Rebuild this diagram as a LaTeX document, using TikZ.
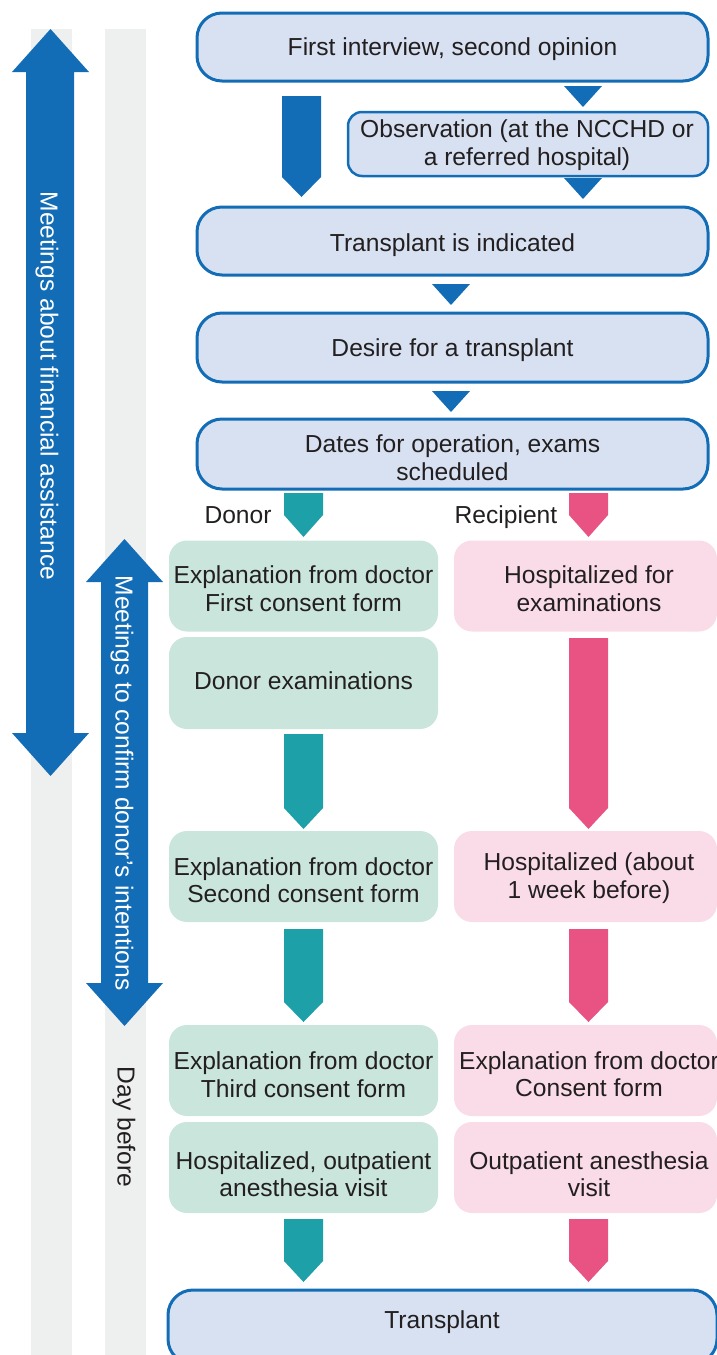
\documentclass[tikz,border=0pt]{standalone}
\usepackage{fontspec}
\setmainfont{Liberation Sans}
\definecolor{mblue}{HTML}{136DB6}
\definecolor{bfill}{HTML}{D7E1F1}
\definecolor{teal1}{HTML}{1EA0A9}
\definecolor{tfill}{HTML}{C9E5DC}
\definecolor{pink1}{HTML}{E95384}
\definecolor{pfill}{HTML}{FADCE8}
\definecolor{strip}{HTML}{EEF0F0}
\definecolor{txt}{HTML}{231F20}
\newcommand\pentarrow[6]{\fill[#6] (#1,#3) -- (#2,#3) -- (#2,#4) -- ({(#1+#2)/2},#5) -- (#1,#4) -- cycle;}
\newcommand\tri[5]{\fill[#5] (#1,#3) -- (#2,#3) -- ({(#1+#2)/2},#4) -- cycle;}
\tikzset{
  base/.style={inner sep=0pt, align=center, text=txt, font=\fontsize{24.6}{27.5}\selectfont},
  bluebox/.style={base, draw=mblue, fill=bfill, line width=3pt, rounded corners=25pt, minimum width=511pt},
  obsbox/.style={base, draw=mblue, fill=bfill, line width=2.5pt, rounded corners=14pt},
  donorbox/.style={base, fill=tfill, rounded corners=18pt, minimum width=269pt, minimum height=91pt},
  recipbox/.style={base, fill=pfill, rounded corners=18pt, minimum width=263pt, minimum height=91pt},
  vlabel/.style={base, rotate=-90},
}
\begin{document}
\begin{tikzpicture}[x=1pt,y=-1pt]
\useasboundingbox (0,0) rectangle (717,1355);
% grey strips
\fill[strip] (31,29) rectangle (72,1356);
\fill[strip] (105,29) rectangle (146,1356);
% double arrows
\fill[mblue] (50.5,29) -- (89,72) -- (74,72) -- (74,733) -- (89,733) -- (50.5,776) -- (12,733) -- (26,733) -- (26,72) -- (12,72) -- cycle;
\node[vlabel, text=white] (fin) at (47,386) {Meetings about financial assistance};
\fill[mblue] (124.5,539) -- (163,582) -- (148,582) -- (148,983) -- (163,983) -- (124.5,1026) -- (86,983) -- (101,983) -- (101,582) -- (86,582) -- cycle;
\node[vlabel, text=white] (conf) at (122,783) {Meetings to confirm donor’s intentions};
\node[vlabel] (day) at (124,1127) {Day before};
% top boxes
\node[bluebox, minimum height=68pt] (b1) at (452.5,47) {};
\node[base] (b1t) at (452.5,49) {First interview, second opinion};
\node[obsbox, minimum width=360pt, minimum height=64pt] (obs) at (528,144) {};
\node[base] (obst) at (527,145) {Observation (at the NCCHD or\\a referred hospital)};
\node[bluebox, minimum height=68pt] (b2) at (452.5,241) {};
\node[base] (b2t) at (452.5,245.5) {Transplant is indicated};
\node[bluebox, minimum height=69pt] (b3) at (452.5,347.5) {};
\node[base] (b3t) at (452.5,350.5) {Desire for a transplant};
\node[bluebox, minimum height=70pt] (b4) at (452.5,454) {};
\node[base] (b4t) at (452.5,457.5) {Dates for operation, exams\\scheduled};
% blue connectors
\pentarrow{282}{321}{96}{177}{197}{mblue}
\tri{564}{602}{86}{107}{mblue}
\tri{564}{602}{178}{199}{mblue}
\tri{432}{470}{284}{305}{mblue}
\tri{432}{470}{391}{412}{mblue}
% labels
\node[base] (donor) at (238,515) {Donor};
\node[base] (recip) at (506,517) {Recipient};
% donor column
\node[donorbox] (d1) at (303.5,586) {};
\node[base] (d1t) at (303.5,588.5) {Explanation from doctor\\First consent form};
\node[donorbox, minimum height=92pt] (d2) at (303.5,683) {};
\node[base] (d2t) at (303.5,681) {Donor examinations};
\node[donorbox] (d3) at (303.5,876.5) {};
\node[base] (d3t) at (303.5,880) {Explanation from doctor\\Second consent form};
\node[donorbox] (d4) at (303.5,1070.5) {};
\node[base] (d4t) at (303.5,1074.5) {Explanation from doctor\\Third consent form};
\node[donorbox] (d5) at (303.5,1167.5) {};
\node[base] (d5t) at (303.5,1174) {Hospitalized, outpatient\\anesthesia visit};
% recipient column
\node[recipbox] (r1) at (585.5,586) {};
\node[base] (r1t) at (589,588.5) {Hospitalized for\\examinations};
\node[recipbox] (r2) at (585.5,876.5) {};
\node[base] (r2t) at (589,878) {Hospitalized (about\\1 week before)};
\node[recipbox] (r3) at (585.5,1070.5) {};
\node[base] (r3t) at (589,1074) {Explanation from doctor\\Consent form};
\node[recipbox] (r4) at (585.5,1167.5) {};
\node[base] (r4t) at (589,1174) {Outpatient anesthesia\\visit};
% teal arrows
\pentarrow{284}{323}{493}{515}{537}{teal1}
\pentarrow{284}{323}{734}{808}{829}{teal1}
\pentarrow{284}{323}{929}{1002}{1022}{teal1}
\pentarrow{284}{323}{1219}{1261}{1282}{teal1}
% pink arrows
\pentarrow{569}{608}{493}{515}{537}{pink1}
\pentarrow{569}{608}{638}{808}{829}{pink1}
\pentarrow{569}{608}{929}{1002}{1022}{pink1}
\pentarrow{569}{608}{1219}{1261}{1282}{pink1}
% final box
\node[bluebox, minimum width=549pt, minimum height=74pt] (tp) at (442.5,1327) {};
\node[base] (tpt) at (442,1322) {Transplant};
\end{tikzpicture}
\end{document}
